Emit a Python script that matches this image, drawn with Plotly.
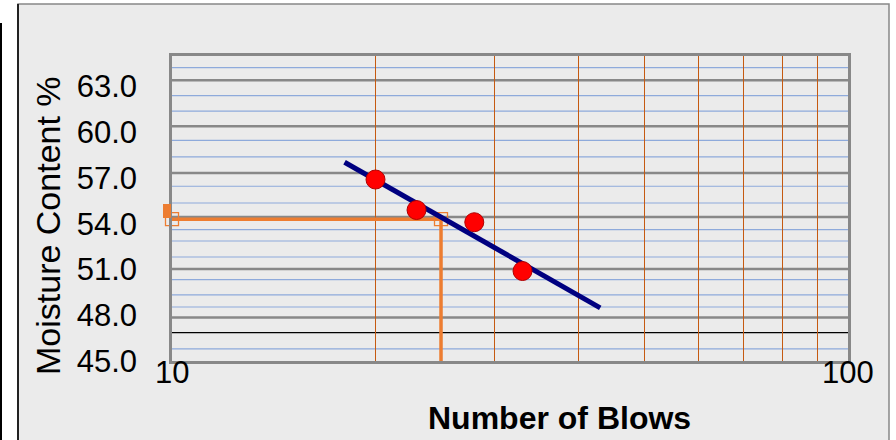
import numpy as np
import plotly.graph_objects as go

# ---- data ----
blows = [20, 23, 28, 33]
moisture = [56.9, 54.9, 54.1, 50.9]
trend_x_range = [18, 43]
ll_blows = 25
ll_value = 54.3
ll_marker_value = 54.85

y_ticks = [45, 48, 51, 54, 57, 60, 63]
x_ticks = [10, 100]
x_grid = [20, 30, 40, 50, 60, 70, 80, 90]

gray_lines = [63.41, 60.39, 57.33, 54.44, 51.03, 47.85]
black_lines = [46.86]
blue_lines = [64.24, 62.40, 61.39, 59.47, 58.38, 56.46, 55.36, 53.62,
              52.87, 51.82, 50.34, 49.33, 48.54, 45.79]

FONT = "Arial, Liberation Sans, sans-serif"
ORANGE = "#ED7D31"

# trendline (log fit as in Excel)
coef = np.polyfit(np.log10(blows), moisture, 1)
tx = np.array(trend_x_range, dtype=float)
ty = np.polyval(coef, np.log10(tx))

fig = go.Figure()

# chart-area background and borders (in paper coords)
L, R, T, B = 172, 848, 56, 361
pw, ph = R - L, B - T
def px(xp):
    return (xp - L) / pw
def py(yp):
    return (B - yp) / ph

fig.add_shape(type="rect", xref="paper", yref="paper",
              x0=px(18), x1=px(889), y0=py(460), y1=py(4),
              fillcolor="#EBEBEB", line=dict(color="#888888", width=1.5),
              layer="below")
fig.add_shape(type="line", xref="paper", yref="paper",
              x0=px(18), x1=px(18), y0=py(460), y1=py(4),
              line=dict(color="#222222", width=2), layer="below")
fig.add_shape(type="line", xref="paper", yref="paper",
              x0=px(1), x1=px(1), y0=py(460), y1=py(23),
              line=dict(color="#000000", width=2), layer="below")

# horizontal reference lines
for v in blue_lines:
    fig.add_hline(y=v, line=dict(color="#8EAADB", width=1.2), layer="below")
for v in gray_lines:
    fig.add_hline(y=v, line=dict(color="#888888", width=2.5), layer="below")
for v in black_lines:
    fig.add_hline(y=v, line=dict(color="#000000", width=1.2), layer="below")

# orange liquid limit construction lines
fig.add_trace(go.Scatter(
    x=[x_ticks[0], ll_blows, ll_blows], y=[ll_value, ll_value, y_ticks[0]],
    mode="lines", line=dict(color=ORANGE, width=3.5),
    cliponaxis=False, showlegend=False, hoverinfo="skip"))
fig.add_trace(go.Scatter(
    x=[x_ticks[0], ll_blows], y=[ll_value, ll_value],
    mode="markers", marker=dict(symbol="square-open", size=13, color=ORANGE,
                                line=dict(width=1.3, color=ORANGE)),
    cliponaxis=False, showlegend=False, hoverinfo="skip"))

# trendline
fig.add_trace(go.Scatter(
    x=tx, y=ty, mode="lines", line=dict(color="#000080", width=5),
    showlegend=False, hoverinfo="skip"))

# data points
fig.add_trace(go.Scatter(
    x=blows, y=moisture, mode="markers",
    marker=dict(symbol="circle", size=19, color="#FF0000",
                line=dict(color="#B00000", width=1)),
    showlegend=False))

# small filled orange marker just left of the axis
fig.add_annotation(x=np.log10(x_ticks[0]), y=ll_marker_value, xref="x", yref="y",
                   text=" ", showarrow=False, width=8, height=14,
                   bgcolor=ORANGE, borderpad=0, borderwidth=0,
                   xanchor="right", xshift=-1, font=dict(size=1))

# axis titles
fig.add_annotation(text="Moisture Content %", xref="paper", yref="paper",
                   x=px(48), y=py(226), xanchor="center", yanchor="middle",
                   textangle=-90, showarrow=False,
                   font=dict(family=FONT, size=34, color="#000000"))
fig.add_annotation(text="<b>Number of Blows</b>", xref="paper", yref="paper",
                   x=px(559), y=py(418), xanchor="center", yanchor="middle",
                   showarrow=False,
                   font=dict(family=FONT, size=32, color="#000000"))

# x tick labels (placed right under the axis, as in the original)
for v in x_ticks:
    fig.add_annotation(x=np.log10(v), y=py(372), xref="x", yref="paper",
                       xanchor="center", yanchor="middle",
                       text=str(v), showarrow=False,
                       font=dict(family=FONT, size=31, color="#000000"))

fig.update_xaxes(
    type="log", range=[1, 2], showticklabels=False,
    showgrid=False, zeroline=False, ticks="", ticklen=0,
    showline=True, mirror=True, linecolor="#888888", linewidth=2.5,
    minor=dict(tickvals=x_grid, showgrid=True, gridcolor="#C55A11", gridwidth=1))
fig.update_yaxes(
    range=[45, 65], tickvals=y_ticks, ticktext=[f"{v:.1f}" for v in y_ticks],
    showgrid=False, zeroline=False, ticks="", ticklen=0,
    showline=True, mirror=True, linecolor="#888888", linewidth=2.5,
    tickfont=dict(family=FONT, size=31, color="#000000"),
    ticklabelstandoff=26)

fig.update_layout(
    width=896, height=440,
    margin=dict(l=L, r=896 - R, t=T, b=440 - B, autoexpand=False),
    paper_bgcolor="#FFFFFF", plot_bgcolor="rgba(0,0,0,0)",
    showlegend=False,
    font=dict(family=FONT),
)

fig.write_html("out.html", config={"displayModeBar": False},
               post_script="document.body.style.margin='0';document.body.style.overflow='hidden';")
